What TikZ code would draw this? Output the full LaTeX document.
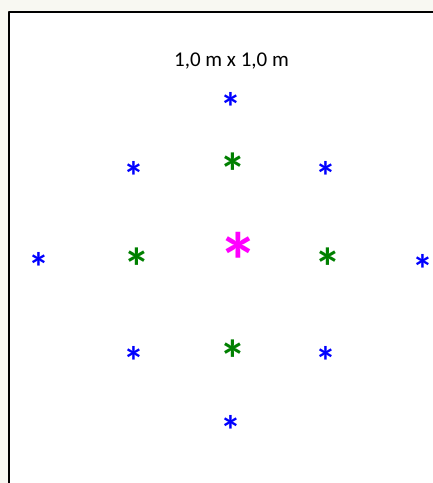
\documentclass[tikz,border=0pt]{standalone}
\usepackage{fontspec}
\setmainfont{Carlito}
\definecolor{fond}{RGB}{248,248,242}
\definecolor{vert}{RGB}{0,128,0}
\definecolor{rose}{RGB}{255,0,255}
\begin{document}
\begin{tikzpicture}[x=1pt, y=-1pt, line join=round,
    etoile/.style={inner sep=0pt, anchor=north, font=\bfseries\fontsize{#1}{#1}\selectfont}]
    \useasboundingbox (0,0) rectangle (433,483);
    \fill[fond] (0,0) rectangle (433,483);
    \clip (0,0) rectangle (433,483);
    \draw[line width=2.2pt, fill=white] (9.3,12) rectangle (445,495);

    \node[anchor=base, font=\fontsize{21}{21}\selectfont] (titre) at (231.5,66) {1,0 m x 1,0 m};

    % petites etoiles bleues
    \foreach \nom/\x/\y in {bh/231/92.5, bhg/134/161, bhd/326/161, bg/39/252,
                            bd/423/254, bbg/134/346.5, bbd/326/346.5, bb/231/415} {
        \node[etoile=42, text=blue] (\nom) at (\x,\y) {*};
    }
    % etoiles vertes
    \foreach \nom/\x/\y in {vh/233/153, vg/137/248, vd/328/248, vb/233/340} {
        \node[etoile=54, text=vert] (\nom) at (\x,\y) {*};
    }
    % centre
    \node[etoile=80, text=rose] (centre) at (238,232) {*};
\end{tikzpicture}
\end{document}
